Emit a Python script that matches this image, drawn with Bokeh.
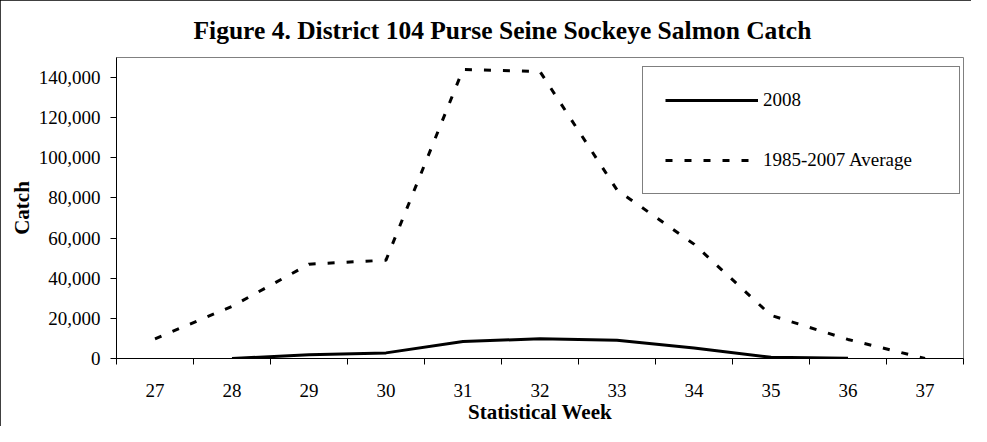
import numpy as np
from bokeh.plotting import figure
from bokeh.models import Range1d, FixedTicker, NumeralTickFormatter, Legend, LegendItem
from bokeh.embed import file_html
from bokeh.resources import INLINE

# ---- data ----
title_text = "Figure 4.  District 104 Purse Seine Sockeye Salmon Catch"
x_label = "Statistical Week"
y_label = "Catch"
weeks = [27, 28, 29, 30, 31, 32, 33, 34, 35, 36, 37]
catch_2008 = [np.nan, 0, 1900, 2800, 8500, 9800, 9100, 5200, 600, 100, np.nan]
avg_1985_2007 = [9800, 26000, 47000, 49000, 144000, 143000, 84000, 57000, 21500, 9500, 0]
series_names = ["2008", "1985-2007 Average"]
y_ticks = [0, 20000, 40000, 60000, 80000, 100000, 120000, 140000]
y_max = 150000

FONT = "Liberation Serif"

p = figure(width=971, height=426, output_backend="svg", toolbar_location=None,
           x_range=Range1d(weeks[0] - 0.5, weeks[-1] + 0.5),
           y_range=Range1d(0, y_max),
           min_border_left=116, min_border_right=8,
           min_border_top=57, min_border_bottom=60)

p.styles = {"outline": "1px solid black", "outline-offset": "-1px"}
p.background_fill_color = "white"
p.border_fill_color = "white"
p.outline_line_color = "#808080"
p.outline_line_width = 1
p.xgrid.visible = False
p.ygrid.visible = False

# title
p.title.text = title_text
p.title.text_font = FONT
p.title.text_font_size = "25.5px"
p.title.text_font_style = "bold"
p.title.text_color = "black"
p.title.align = "left"
p.title.offset = 77
p.title.standoff = 26

# x axis: labels at week centres, ticks at category boundaries
boundaries = [w - 0.5 for w in weeks] + [weeks[-1] + 0.5]
xa = p.xaxis[0]
xa.ticker = FixedTicker(ticks=weeks, minor_ticks=boundaries)
xa.major_tick_in = 0
xa.major_tick_out = 0
xa.minor_tick_in = 0
xa.minor_tick_out = 6
xa.minor_tick_line_color = "black"
xa.axis_line_color = "black"
xa.major_label_text_font = FONT
xa.major_label_text_font_size = "19px"
xa.major_label_text_color = "black"
xa.major_label_standoff = 19
xa.axis_label = x_label
xa.axis_label_text_font = FONT
xa.axis_label_text_font_size = "21px"
xa.axis_label_text_font_style = "bold"
xa.axis_label_text_color = "black"
xa.axis_label_standoff = 0

ya = p.yaxis[0]
ya.ticker = FixedTicker(ticks=y_ticks, minor_ticks=[])
ya.formatter = NumeralTickFormatter(format="0,0")
ya.major_tick_in = 0
ya.major_tick_out = 6
ya.major_tick_line_color = "black"
ya.minor_tick_line_color = None
ya.axis_line_color = "black"
ya.major_label_text_font = FONT
ya.major_label_text_font_size = "19px"
ya.major_label_text_color = "black"
ya.major_label_standoff = 10
ya.axis_label = y_label
ya.axis_label_text_font = FONT
ya.axis_label_text_font_size = "21px"
ya.axis_label_text_font_style = "bold"
ya.axis_label_text_color = "black"
ya.axis_label_standoff = 2

r_avg = p.line(weeks, avg_1985_2007, line_color="black", line_width=3, line_dash="7 12")
r_2008 = p.line(weeks, catch_2008, line_color="black", line_width=3)

legend = Legend(items=[LegendItem(label=series_names[0], renderers=[r_2008]),
                       LegendItem(label=series_names[1], renderers=[r_avg])],
                location=(526, 164), orientation="vertical",
                padding=22, spacing=38, margin=0,
                glyph_width=93, glyph_height=22, label_height=22, label_width=174,
                label_standoff=5,
                border_line_color="black", border_line_width=1,
                background_fill_color="white", background_fill_alpha=1,
                label_text_font=FONT, label_text_font_size="19px",
                label_text_color="black")
p.add_layout(legend)

open("out.html", "w").write(file_html(p, INLINE))
